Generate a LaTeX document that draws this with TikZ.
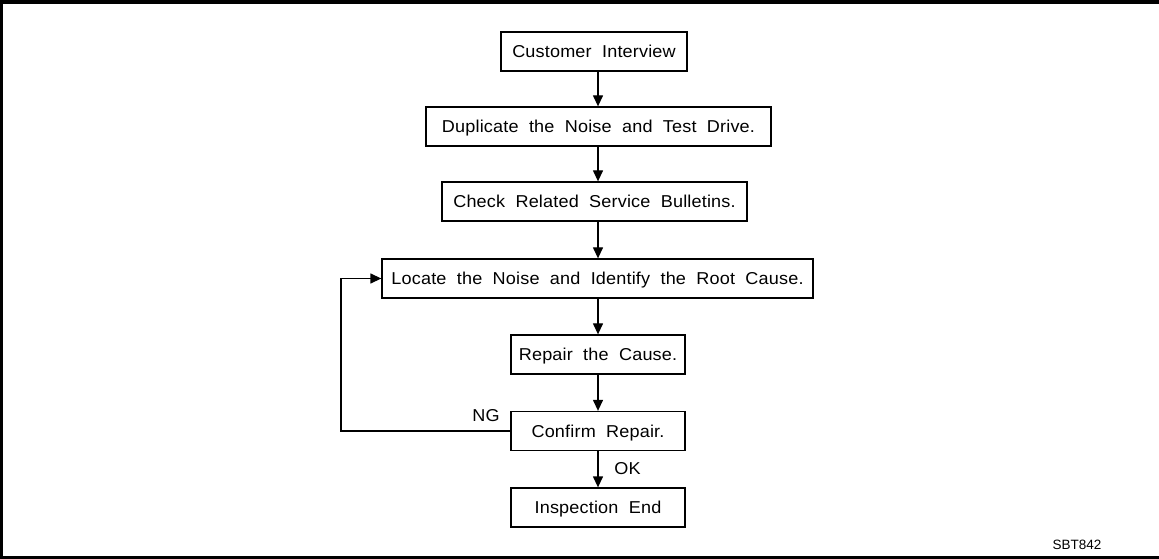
\documentclass[tikz,border=0pt]{standalone}
\usepackage{fontspec}
\setmainfont{Liberation Sans}[FakeStretch=1.05,LetterSpace=1,WordSpace=2]
\newfontfamily\codefont{Liberation Sans}
\usetikzlibrary{arrows.meta}
\begin{document}
\begin{tikzpicture}[x=1bp,y=-1bp,
  stepbox/.style={draw,line width=1.3bp,minimum height=39bp,inner sep=0pt,
    text height=12.3bp,text depth=0bp,font=\fontsize{17.2bp}{20bp}\selectfont},
  lbl/.style={inner sep=0pt,font=\fontsize{17.2bp}{20bp}\selectfont},
  arr/.style={line width=1.3bp,-{Triangle[length=11bp,width=10bp]}},
  frame/.style={line width=3bp}]
\useasboundingbox (0,0) rectangle (1159,559);
\draw[line width=4bp] (0,2) -- (1159,2);
\draw[frame] (1.5,0) -- (1.5,559);
\draw[frame] (0,557) -- (1159,557);
\coordinate (axis) at (598,0);
\node[stepbox,minimum width=186bp] (cust) at (594,51.5) {Customer Interview};
\node[stepbox,minimum width=345bp] (dup) at (598.5,126.5) {Duplicate the Noise and Test Drive.};
\node[stepbox,minimum width=305bp] (chk) at (594.5,201.5) {Check Related Service Bulletins.};
\node[stepbox,minimum width=431bp] (loc) at (597.5,278.5) {Locate the Noise and Identify the Root Cause.};
\node[stepbox,minimum width=174bp] (rep) at (598,354.5) {Repair the Cause.};
\node[stepbox,minimum width=174bp] (conf) at (598,431) {Confirm Repair.};
\node[stepbox,minimum width=174bp] (insp) at (598,507.5) {Inspection End};
\draw[arr] (cust.south -| axis) -- (dup.north -| axis);
\draw[arr] (dup.south -| axis) -- (chk.north -| axis);
\draw[arr] (chk.south -| axis) -- (loc.north -| axis);
\draw[arr] (loc.south -| axis) -- (rep.north -| axis);
\draw[arr] (rep.south -| axis) -- (conf.north -| axis);
\draw[arr] (conf.south -| axis) -- (insp.north -| axis);
\coordinate (loopx) at (341,0);
\draw[arr] (conf.west) -- (conf.west -| loopx) -- (loc.west -| loopx) -- (loc.west);
\node[lbl] (ng) at (486,416) {NG};
\node[lbl] (ok) at (627.5,468.5) {OK};
\node[inner sep=0pt,font=\codefont\fontsize{13.5bp}{16bp}\selectfont] (code) at (1077,545) {SBT842};
\end{tikzpicture}
\end{document}
